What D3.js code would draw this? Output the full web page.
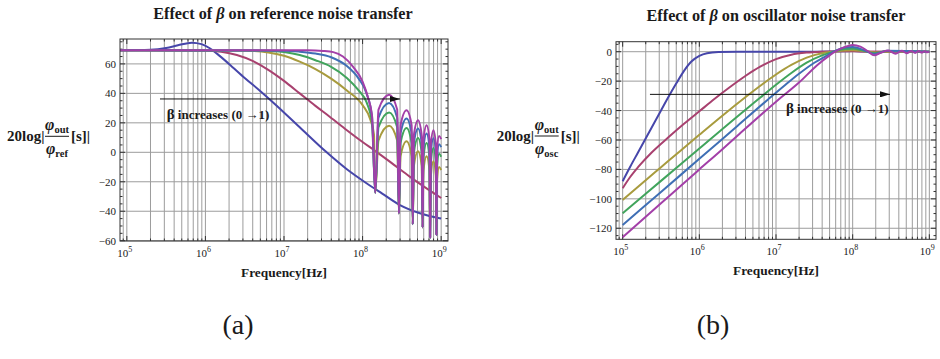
<!DOCTYPE html>
<html>
<head>
<meta charset="utf-8">
<script src="https://cdn.jsdelivr.net/npm/d3@7/dist/d3.min.js"></script>
<style>
  body { margin: 0; background: #fff; }
  svg { display: block; }
  text { fill: #1a1a1a; }
  .tick-label { font-size: 11px; }
  .title { font-size: 16.2px; font-weight: bold; }
  .axis-title { font-size: 13.4px; font-weight: bold; }
  .ylab { font-size: 15px; font-weight: bold; }
  .note { font-size: 13px; font-weight: bold; }
  .panel-tag { font-size: 28px; }
</style>
</head>
<body>
<svg id="chart" width="940" height="359"></svg>
<script>
// x values are log10(frequency / Hz), y values are dB
const seriesColors = ['#4646aa', '#a8416f', '#a89b3e', '#41a45c', '#3f6fb5', '#a33fa8'];
const decades = [5, 6, 7, 8, 9];
const yTicksRef = [-60, -40, -20, 0, 20, 40, 60];
const yTicksOsc = [-120, -100, -80, -60, -40, -20, 0];

// (a) reference noise transfer, beta from 0 to 1
const refBeta0 = [[4.913, 69.2], [5.3, 69.6], [5.5, 70.8], [5.65, 72.6], [5.826, 74.4], [5.95, 73.4], [6.05, 70.8],
  [6.15, 66.8], [6.3, 60], [6.5, 50.5], [6.7, 41.5], [6.9, 32], [7.2, 17], [7.543, 0], [7.8, -11.5], [8.05, -21],
  [8.25, -28], [8.476, -35.8], [8.73, -41.4], [8.98, -44.8], [9.0, -45]];
const refBeta1 = [[4.913, 69.2], [6.0, 69], [6.2, 68.2], [6.4, 66], [6.6, 62], [6.8, 56], [7.0, 48.5], [7.2, 40],
  [7.4, 31.5], [7.585, 24], [7.8, 15], [8.0, 7], [8.16, 1], [8.4, -8.5], [8.6, -16.5], [8.8, -24], [9.0, -31]];
const refBeta2 = [[4.913, 69.2], [6.5, 69], [6.8, 67.8], [7.0, 65.5], [7.2, 61.5], [7.4, 56.5], [7.6, 50], [7.8, 42],
  [8.0, 32], [8.1, 22], [8.145, 12], [8.161, -27.5],
  [8.2028, 8], [8.3375, 18], [8.4401, 8], [8.4624, -41.5],
  [8.4836, -2.5], [8.5593, 7.5], [8.6238, -2.5], [8.6385, -48.8],
  [8.6527, -9.3], [8.7055, 0.7], [8.7524, -9.3], [8.7634, -51],
  [8.7742, -12.7], [8.8146, -2.7], [8.8516, -12.7], [8.8603, -57.8],
  [8.8689, -16], [8.9017, -6], [8.9322, -16], [8.9395, -56],
  [8.9467, -20], [8.9743, -10], [9.0, -12]];
const refBeta3 = [[4.913, 69.2], [6.8, 69], [7.0, 68], [7.2, 66], [7.4, 62.5], [7.6, 58], [7.8, 50.5], [7.95, 42],
  [8.05, 34], [8.12, 20], [8.161, -27.5],
  [8.2028, 17], [8.3375, 27], [8.4401, 17], [8.4624, -41.5],
  [8.4836, 6.5], [8.5593, 16.5], [8.6238, 6.5], [8.6385, -48.8],
  [8.6527, -0.3], [8.7055, 9.7], [8.7524, -0.3], [8.7634, -51],
  [8.7742, -3.7], [8.8146, 6.3], [8.8516, -3.7], [8.8603, -57.8],
  [8.8689, -7], [8.9017, 3], [8.9322, -7], [8.9395, -56],
  [8.9467, -11], [8.9743, -1], [9.0, -3]];
const refBeta4 = [[4.913, 69.2], [7.0, 69], [7.2, 68.3], [7.4, 67], [7.6, 64.5], [7.8, 58.5], [7.95, 50], [8.05, 40],
  [8.12, 24], [8.161, -27.5],
  [8.2028, 23.5], [8.3375, 33.5], [8.4401, 23.5], [8.4624, -41.5],
  [8.4836, 13], [8.5593, 23], [8.6238, 13], [8.6385, -48.8],
  [8.6527, 6.2], [8.7055, 16.2], [8.7524, 6.2], [8.7634, -51],
  [8.7742, 2.8], [8.8146, 12.8], [8.8516, 2.8], [8.8603, -57.8],
  [8.8689, -0.5], [8.9017, 9.5], [8.9322, -0.5], [8.9395, -56],
  [8.9467, -4.5], [8.9743, 5.5], [9.0, 3.5]];
const refBeta5 = [[4.913, 69.2], [7.3, 69.2], [7.5, 68.8], [7.627, 68], [7.75, 65], [7.88, 58], [8.0, 48], [8.07, 37],
  [8.12, 25], [8.161, -27.5],
  [8.2028, 29], [8.3375, 39], [8.4401, 29], [8.4624, -41.5],
  [8.4836, 18.5], [8.5593, 28.5], [8.6238, 18.5], [8.6385, -48.8],
  [8.6527, 11.7], [8.7055, 21.7], [8.7524, 11.7], [8.7634, -51],
  [8.7742, 8.3], [8.8146, 18.3], [8.8516, 8.3], [8.8603, -57.8],
  [8.8689, 5], [8.9017, 15], [8.9322, 5], [8.9395, -56],
  [8.9467, 1], [8.9743, 11], [9.0, 9]];

// (b) oscillator noise transfer, beta from 0 to 1
const oscBeta0 = [[5.0, -88], [5.1, -78], [5.2, -68.5], [5.3, -59], [5.4, -49.5], [5.5, -40], [5.6, -30.5],
  [5.7, -21.5], [5.8, -13], [5.9, -6.5], [6.0, -2.8], [6.1, -1], [6.25, -0.2], [6.5, 0], [7.5, 0], [7.9, 0.3],
  [8.0, 0.5], [8.3, -0.2], [8.6, 0.1], [9.0, 0]];
const oscBeta1 = [[5.0, -92.8], [5.1, -85], [5.2, -78.5], [5.378, -68.5], [5.6, -58], [5.8, -49], [6.0, -40.5],
  [6.2, -32], [6.4, -24], [6.6, -16.5], [6.8, -10], [7.0, -5], [7.2, -2], [7.4, -0.6], [7.6, 0], [7.9, 0.3],
  [8.1, 0.2], [9.0, 0]];
const oscBeta2 = [[5.0, -100.8], [5.3, -87.3], [5.5, -78.5], [5.704, -69.5], [6.0, -56.5], [6.3, -43.5], [6.6, -31],
  [6.8, -23], [7.0, -15.5], [7.2, -9], [7.4, -4], [7.6, -1], [7.75, 0], [7.9, 0.8], [8.0, 1], [8.15, 0.3],
  [8.3, -0.5], [8.5, 0.2], [9.0, 0]];
const oscBeta3 = [[5.0, -109.8], [5.5, -87.8], [6.0, -65.8], [6.5, -43.8], [6.8, -31], [7.0, -22.5], [7.2, -14.5],
  [7.4, -7.5], [7.6, -2.5], [7.75, 0], [7.9, 1.8], [8.0, 2], [8.15, 0.6], [8.28, -1], [8.45, 0.4], [9.0, 0]];
const oscBeta4 = [[5.0, -117.8], [5.5, -95.3], [6.0, -72.8], [6.5, -50.3], [6.9, -32.3], [7.1, -23.5], [7.3, -15],
  [7.5, -7.5], [7.65, -3], [7.75, 0], [7.9, 2.8], [8.0, 3.2], [8.15, 1], [8.28, -1.6], [8.45, 0.6], [9.0, 0]];
const oscBeta5 = [[5.0, -126.1], [5.5, -103], [6.0, -80], [6.29, -66.8], [6.5, -57], [7.0, -34], [7.3, -21],
  [7.54, -9], [7.7, -2.5], [7.77, 0], [7.9, 3.3], [8.0, 4.6], [8.1, 3.5], [8.2, 0.3], [8.28, -2.4], [8.37, -0.6],
  [8.465, 0.8], [8.56, -1.4], [8.64, 0.6], [8.705, -1], [8.765, 0.5], [8.815, -0.8], [8.862, 0.4], [8.902, -0.6],
  [8.94, 0.3], [8.974, -0.4], [9.0, 0]];

const svg = d3.select('#chart')
  .style('font-family', "'Liberation Serif', 'Times New Roman', serif");

const panels = [
  {
    title: 'reference noise transfer', sub: 'ref', tag: '(a)',
    left: 120, right: 448, top: 39, bottom: 241,
    xDomain: [4.913, 9.087], yDomain: [-60.2, 76.9], yTicks: yTicksRef,
    curves: [refBeta0, refBeta1, refBeta2, refBeta3, refBeta4, refBeta5],
    titleX: 283, titleY: 19, labelX: 7, labelY: 136.3, tagX: 238,
    arrow: [[5.422, 36.2], [8.476, 36.2]], note: [5.507, 22.6],
  },
  {
    title: 'oscillator noise transfer', sub: 'osc', tag: '(b)',
    left: 616, right: 936, top: 41.7, bottom: 239.3,
    xDomain: [4.913, 9.087], yDomain: [-127.5, 6.8], yTicks: yTicksOsc,
    curves: [oscBeta0, oscBeta1, oscBeta2, oscBeta3, oscBeta4, oscBeta5],
    titleX: 776, titleY: 21, labelX: 496.7, labelY: 136, tagX: 713,
    arrow: [[5.356, -29], [8.487, -29]], note: [7.13, -41.7],
  },
];

svg.append('defs').append('marker')
  .attr('id', 'head')
  .attr('viewBox', '0 0 10 6')
  .attr('refX', 10).attr('refY', 3)
  .attr('markerWidth', 10).attr('markerHeight', 6)
  .attr('markerUnits', 'userSpaceOnUse')
  .attr('orient', 'auto')
  .append('path').attr('d', 'M0,0L10,3L0,6z').attr('fill', '#111');

panels.forEach((c, pi) => {
  const x = d3.scaleLog([10 ** c.xDomain[0], 10 ** c.xDomain[1]], [c.left, c.right]);
  const y = d3.scaleLinear(c.yDomain, [c.bottom, c.top]);
  const g = svg.append('g');

  // grid
  g.selectAll('line.vgrid')
    .data(x.ticks())
    .join('line')
    .attr('x1', (d) => x(d)).attr('x2', (d) => x(d))
    .attr('y1', c.top).attr('y2', c.bottom)
    .attr('stroke', '#9c9c9c').attr('stroke-width', 1);
  g.selectAll('line.hgrid')
    .data(c.yTicks)
    .join('line')
    .attr('x1', c.left).attr('x2', c.right)
    .attr('y1', (d) => y(d)).attr('y2', (d) => y(d))
    .attr('stroke', '#9c9c9c').attr('stroke-width', 1);

  // frame ticks (inside, all four sides)
  const minorY = y.ticks(30);
  const ticks = g.append('g').attr('stroke', '#333').attr('stroke-width', 1);
  minorY.forEach((v) => {
    const len = c.yTicks.includes(v) ? 5 : 2.5;
    ticks.append('line').attr('x1', c.left).attr('x2', c.left + len).attr('y1', y(v)).attr('y2', y(v));
    ticks.append('line').attr('x1', c.right).attr('x2', c.right - len).attr('y1', y(v)).attr('y2', y(v));
  });
  x.ticks().forEach((f) => {
    const len = Math.abs(Math.log10(f) % 1) < 1e-9 ? 5 : 2.5;
    ticks.append('line').attr('x1', x(f)).attr('x2', x(f)).attr('y1', c.bottom).attr('y2', c.bottom - len);
    ticks.append('line').attr('x1', x(f)).attr('x2', x(f)).attr('y1', c.top).attr('y2', c.top + len);
  });

  // curves
  const clipId = `clip${pi}`;
  svg.append('clipPath').attr('id', clipId)
    .append('rect').attr('x', c.left).attr('y', c.top).attr('width', c.right - c.left).attr('height', c.bottom - c.top);
  const line = d3.line()
    .x((d) => x(10 ** d[0]))
    .y((d) => y(d[1]))
    .curve(d3.curveMonotoneX);
  g.append('g').attr('clip-path', `url(#${clipId})`)
    .selectAll('path')
    .data(c.curves)
    .join('path')
    .attr('d', line)
    .attr('fill', 'none')
    .attr('stroke', (d, i) => seriesColors[i])
    .attr('stroke-width', 2)
    .attr('stroke-linejoin', 'round');

  // frame
  g.append('rect')
    .attr('x', c.left).attr('y', c.top)
    .attr('width', c.right - c.left).attr('height', c.bottom - c.top)
    .attr('fill', 'none').attr('stroke', '#333').attr('stroke-width', 1);

  // y tick labels
  g.selectAll('text.ylabel')
    .data(c.yTicks)
    .join('text')
    .attr('class', 'tick-label')
    .attr('x', c.left - 4)
    .attr('y', (d) => y(d) + 4)
    .attr('text-anchor', 'end')
    .text((d) => (d < 0 ? '\u2212' + Math.abs(d) : d));

  // x tick labels
  const xl = g.selectAll('text.xlabel')
    .data(decades)
    .join('text')
    .attr('class', 'tick-label')
    .attr('x', (d) => x(10 ** d) - 2)
    .attr('y', c.bottom + 16)
    .attr('text-anchor', 'middle');
  xl.append('tspan').text('10');
  xl.append('tspan').attr('dy', -5).attr('font-size', 8).text((d) => d);

  // titles
  const t = svg.append('text').attr('class', 'title')
    .attr('x', c.titleX).attr('y', c.titleY).attr('text-anchor', 'middle');
  t.append('tspan').text('Effect of ');
  t.append('tspan').attr('font-style', 'italic').text('β');
  t.append('tspan').text(' on ' + c.title);

  svg.append('text').attr('class', 'axis-title')
    .attr('x', (c.left + c.right) / 2).attr('y', c.bottom + 36)
    .attr('text-anchor', 'middle')
    .text('Frequency[Hz]');

  // y axis label: 20log| phi_out / phi_sub [s]|
  const yl = svg.append('g').attr('transform', `translate(${c.labelX},${c.labelY})`);
  yl.append('text').attr('class', 'ylab').attr('x', 0).attr('y', 5).text('20log|');
  const num = yl.append('text').attr('class', 'ylab').attr('x', 50).attr('y', -6).attr('text-anchor', 'middle');
  num.append('tspan').attr('font-style', 'italic').attr('font-size', 16).text('φ');
  num.append('tspan').attr('font-size', 10.5).attr('dy', 3).text('out');
  const den = yl.append('text').attr('class', 'ylab').attr('x', 50).attr('y', 18).attr('text-anchor', 'middle');
  den.append('tspan').attr('font-style', 'italic').attr('font-size', 16).text('φ');
  den.append('tspan').attr('font-size', 10.5).attr('dy', 3).text(c.sub);
  yl.append('line').attr('x1', 38).attr('x2', 62).attr('y1', 0).attr('y2', 0).attr('stroke', '#1a1a1a').attr('stroke-width', 1);
  yl.append('text').attr('class', 'ylab').attr('x', 64).attr('y', 5).text('[s]|');

  // annotation
  g.append('line')
    .attr('x1', x(10 ** c.arrow[0][0])).attr('y1', y(c.arrow[0][1]))
    .attr('x2', x(10 ** c.arrow[1][0])).attr('y2', y(c.arrow[1][1]))
    .attr('stroke', '#111').attr('stroke-width', 1)
    .attr('marker-end', 'url(#head)');
  const note = g.append('text').attr('class', 'note')
    .attr('x', x(10 ** c.note[0])).attr('y', y(c.note[1]));
  note.append('tspan').attr('font-size', 15).text('β');
  note.append('tspan').text(' increases (0 \u21921)');

  svg.append('text').attr('class', 'panel-tag')
    .attr('x', c.tagX).attr('y', 334).attr('text-anchor', 'middle')
    .text(c.tag);
});
</script>
</body>
</html>
